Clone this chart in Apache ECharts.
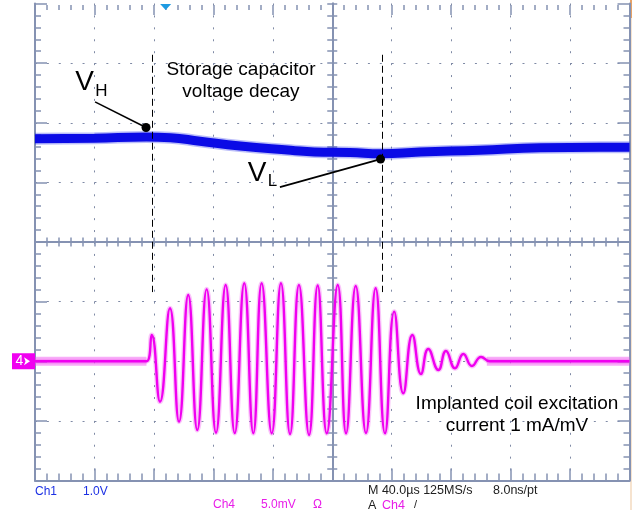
<!DOCTYPE html>
<html>
<head>
<meta charset="utf-8">
<script src="https://cdn.jsdelivr.net/npm/echarts@6/dist/echarts.min.js"></script>
<style>
  html, body { margin: 0; padding: 0; background: #ffffff; }
  #scope { width: 632px; height: 510px; }
</style>
</head>
<body>
<div id="scope"></div>
<script>
// Horizontal: 40 µs per division, ten divisions around the reference
const timeRangeUs = [-200, 200];
const timeDivUs = 40;
// Ch1 (1.0 V/div) and Ch4 (5.0 mV/div, ground two divisions below centre)
const ch1RangeV = [-4, 4];
const ch4RangeMv = [-10, 30];

// Ch1: storage capacitor voltage
const ch1Time = [-200, -160, -125, -109, -89, -62, -28, -12, 12, 33, 59, 99, 140, 180, 200];
const ch1Volts = [1.73, 1.74, 1.76, 1.75, 1.69, 1.61, 1.54, 1.51, 1.50, 1.48, 1.51, 1.54, 1.58, 1.59, 1.59];

// Ch4: coil excitation current (peaks and troughs of the burst)
const ch4Time = [-200, -125,
  -121.5, -115.9, -109.2, -103.1, -96.9, -90.8, -84.5, -78.2, -71.7, -65.6,
  -59.2, -53.1, -47.5, -40.7, -34.5, -28.4, -22.4, -15.6, -9.8, -3.7,
  3.7, 9.3, 15.8, 22.7, 29.2, 35.5, 41.7, 47.8, 53.9, 59.7,
  64.6, 71.4, 76.5, 82.6, 88.2, 94.0, 100.1,
  106, 200];
const ch4MilliVolts = [0, 0,
  2.20, -3.39, 4.44, -5.07, 5.56, -5.77, 6.03, -5.99, 6.39, -6.02,
  6.54, -6.04, 6.54, -6.04, 6.54, -6.10, 6.39, -6.18, 6.35, -6.04,
  6.39, -6.04, 6.31, -6.02, 6.12, -6.04, 4.16, -2.69, 2.20, -1.07,
  1.03, -0.73, 0.86, -0.59, 0.61, -0.40, 0.36,
  0, 0];
// Quiet stretches of Ch4 where the noise band is visible
const ch4QuietSpans = [[-200, -125], [104, 200]];

// Cursor positions (µs) and their vertical extent (Ch1 volts)
const cursorTimes = [-121.3, 33.5];
const cursorSpanV = [3.14, -0.84];
// V_H and V_L points and the ends of their leader lines
const levelPoints = [[-125.3, 1.92], [32.5, 1.39]];
const leaderStarts = [[-159.6, 2.35], [-35.2, 0.92]];
// Trigger position marker
const triggerTimeUs = -112.1;

const zip = (xs, ys) => xs.map((x, i) => [x, ys[i]]);

const FONT = "'Liberation Sans', Arial, sans-serif";
const frame = '#8592b2';
const dotColor = '#7f8aa5';
const blue = '#0b0be6';
const magenta = '#f000f0';
const textBlue = '#1c30e4';
const textMagenta = '#e81ce8';

const chart = echarts.init(document.getElementById('scope'), null, { renderer: 'canvas' });

function timeAxis(extra) {
  return Object.assign({
    type: 'value', min: timeRangeUs[0], max: timeRangeUs[1], interval: timeDivUs,
    axisLabel: { show: false }, splitLine: { show: false }
  }, extra);
}
function voltAxis(extra) {
  return Object.assign({
    type: 'value', min: ch1RangeV[0], max: ch1RangeV[1], interval: 1,
    axisLabel: { show: false }, splitLine: { show: false }
  }, extra);
}
const tick = (len, inside) => ({ show: true, inside: inside, length: len, lineStyle: { color: frame, width: 1.5 } });
const minor = (len) => ({ show: true, splitNumber: 5, length: len, lineStyle: { color: frame, width: 1.5 } });
const solidLine = (onZero) => Object.assign({ show: true, onZero: onZero, lineStyle: { color: frame, width: 2 } },
  onZero ? { onZeroAxisIndex: 0 } : {});
// Dotted graticule: one dot per minor division
const dotted = (pitch) => ({
  show: true, showMinLine: false, showMaxLine: false,
  lineStyle: { color: dotColor, width: 1, type: [2, pitch - 2] }
});

const textLabel = (coord, text, size, extra) => ({
  coord: coord, symbol: 'circle', symbolSize: 0.1,
  itemStyle: { color: 'rgba(0,0,0,0)' },
  label: Object.assign({
    show: true, position: 'inside', formatter: text, color: '#000',
    fontSize: size, fontFamily: FONT, align: 'center', verticalAlign: 'middle'
  }, extra || {})
});

const footer = (x, y, text, color, size) => ({
  type: 'text', left: x, top: y, silent: true,
  style: { text: text, fill: color, font: (size || 12) + 'px ' + FONT }
});

const option = {
  animation: false,
  backgroundColor: '#ffffff',
  grid: { left: 35, top: 3.5, width: 594.5, height: 477, containLabel: false, outerBoundsMode: 'none' },
  xAxis: [
    timeAxis({ position: 'bottom', axisLine: solidLine(false), axisTick: tick(12, true), minorTick: minor(7),
      splitLine: dotted(477 / 40) }),
    // top edge: tick marks only, no frame line
    timeAxis({ position: 'top', offset: -1.5, axisLine: { show: false, onZero: false },
      axisTick: tick(10, true), minorTick: minor(5) }),
    timeAxis({ position: 'bottom', axisLine: solidLine(true), axisTick: tick(4.5, false), minorTick: minor(4.5) }),
    timeAxis({ position: 'bottom', axisLine: solidLine(true), axisTick: tick(4.5, true), minorTick: minor(4.5) })
  ],
  yAxis: [
    voltAxis({ position: 'left', axisLine: solidLine(false), axisTick: tick(12, true), minorTick: minor(6),
      splitLine: dotted(594.5 / 50) }),
    { type: 'value', min: ch4RangeMv[0], max: ch4RangeMv[1], interval: 5, show: false, position: 'right',
      axisLine: { onZero: false } },
    voltAxis({ position: 'right', axisLine: solidLine(false), axisTick: tick(12, true), minorTick: minor(6) }),
    voltAxis({ position: 'left', axisLine: solidLine(true), axisTick: tick(5, false), minorTick: minor(5) }),
    voltAxis({ position: 'left', axisLine: solidLine(true), axisTick: tick(5, true), minorTick: minor(5) })
  ],
  series: [
    {
      name: 'Ch1 haze', type: 'line', xAxisIndex: 0, yAxisIndex: 0, smooth: true, symbol: 'none', silent: true,
      data: zip(ch1Time, ch1Volts), lineStyle: { color: 'rgba(30,40,235,0.3)', width: 12 }, z: 2
    },
    {
      name: 'Ch1', type: 'line', xAxisIndex: 0, yAxisIndex: 0, smooth: true, symbol: 'none', silent: true,
      data: zip(ch1Time, ch1Volts), lineStyle: { color: blue, width: 9 }, z: 3,
      markLine: {
        silent: true, symbol: ['none', 'none'], label: { show: false },
        data: [
          ...cursorTimes.map(t => [
            { coord: [t, cursorSpanV[0]], lineStyle: { color: '#000', width: 1, type: [7, 4] } },
            { coord: [t, cursorSpanV[1]] }
          ]),
          ...levelPoints.map((p, i) => [
            { coord: leaderStarts[i], lineStyle: { color: '#000', width: 1.6, type: 'solid' } },
            { coord: p }
          ])
        ]
      },
      markPoint: {
        silent: true,
        data: [
          ...levelPoints.map(p => ({ coord: p, symbol: 'circle', symbolSize: 9, itemStyle: { color: '#000' }, label: { show: false } })),
          { coord: [triggerTimeUs, ch1RangeV[1]], symbol: 'triangle', symbolRotate: 180, symbolSize: [11, 6],
            symbolOffset: [0, 3.5], itemStyle: { color: '#1e9be2' }, label: { show: false } },
          textLabel([-166.7, 2.68], 'V', 28),
          textLabel([-155.3, 2.52], 'H', 17),
          textLabel([-50.6, 1.16], 'V', 28),
          textLabel([-40.2, 1.02], 'L', 17),
          textLabel([-61.4, 2.71], 'Storage capacitor\nvoltage decay', 19, { lineHeight: 22 }),
          textLabel([124.3, -2.90], 'Implanted coil excitation\ncurrent 1 mA/mV', 19, { lineHeight: 22 })
        ]
      }
    },
    ...ch4QuietSpans.map(span => ({
      name: 'Ch4 noise', type: 'line', xAxisIndex: 0, yAxisIndex: 1, symbol: 'none', silent: true,
      data: [[span[0], 0], [span[1], 0]],
      lineStyle: { color: 'rgba(240,70,240,0.45)', width: 9 }, z: 4
    })),
    {
      name: 'Ch4 haze', type: 'line', xAxisIndex: 0, yAxisIndex: 1, smooth: true, symbol: 'none', silent: true,
      data: zip(ch4Time, ch4MilliVolts), lineStyle: { color: 'rgba(240,90,240,0.35)', width: 5 }, z: 5
    },
    {
      name: 'Ch4', type: 'line', xAxisIndex: 0, yAxisIndex: 1, smooth: true, symbol: 'none', silent: true,
      data: zip(ch4Time, ch4MilliVolts), lineStyle: { color: magenta, width: 2.4 }, z: 6,
      markPoint: {
        silent: true,
        data: [
          // ground reference tag for Ch4
          {
            coord: [timeRangeUs[0], 0], symbol: 'rect', symbolSize: [23, 16], symbolOffset: [-11.5, 0],
            itemStyle: { color: magenta },
            label: { show: true, position: 'inside', formatter: '4', offset: [-4, 0],
              color: '#ffffff', fontSize: 14, fontFamily: FONT }
          },
          {
            coord: [timeRangeUs[0], 0], symbol: 'arrow', symbolRotate: -90, symbolSize: [6, 6],
            symbolOffset: [-5, 0], itemStyle: { color: '#ffffff' }, label: { show: false }
          }
        ]
      }
    }
  ],
  graphic: [
    { type: 'rect', silent: true, shape: { x: 630, y: 0, width: 2, height: 510 }, style: { fill: '#f6e3cf' } },
    { type: 'rect', silent: true, shape: { x: 630, y: 0, width: 2, height: 18 }, style: { fill: '#e6a267' } },
    footer(35, 486, 'Ch1', textBlue),
    footer(83, 486, '1.0V', textBlue),
    footer(213, 499, 'Ch4', textMagenta),
    footer(261, 499, '5.0mV', textMagenta),
    footer(313, 499, '\u03a9', textMagenta),
    footer(368, 484, 'M 40.0\u00b5s 125MS/s', '#202020', 12.5),
    footer(493, 484, '8.0ns/pt', '#202020', 12.5),
    footer(368, 499, 'A', '#202020', 12.5),
    footer(382, 499, 'Ch4', textMagenta, 12.5),
    footer(414, 499, '/', '#202020', 11)
  ]
};

chart.setOption(option);
</script>
</body>
</html>
